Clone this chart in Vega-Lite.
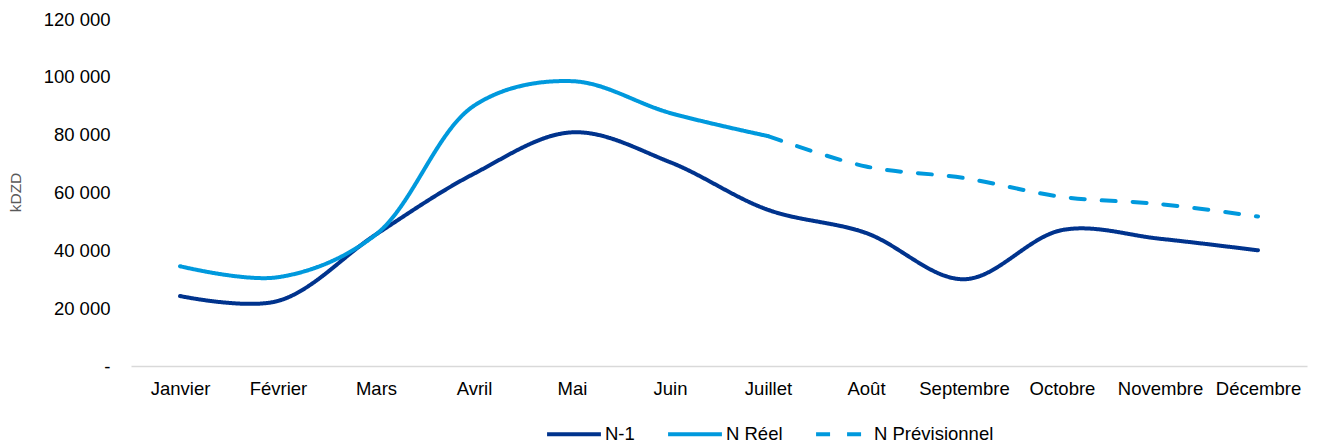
{
  "$schema": "https://vega.github.io/schema/vega-lite/v6.json",
  "autosize": "none",
  "width": 1176,
  "height": 347,
  "padding": {"left": 131, "top": 19, "right": 12, "bottom": 79},
  "background": "white",
  "data": {
    "values": [
      {"mois": "Janvier", "serie": "N-1", "valeur": 24200},
      {"mois": "Février", "serie": "N-1", "valeur": 22500},
      {"mois": "Mars", "serie": "N-1", "valeur": 45500},
      {"mois": "Avril", "serie": "N-1", "valeur": 66500},
      {"mois": "Mai", "serie": "N-1", "valeur": 80800},
      {"mois": "Juin", "serie": "N-1", "valeur": 70500},
      {"mois": "Juillet", "serie": "N-1", "valeur": 54000},
      {"mois": "Août", "serie": "N-1", "valeur": 46000},
      {"mois": "Septembre", "serie": "N-1", "valeur": 30000},
      {"mois": "Octobre", "serie": "N-1", "valeur": 47000},
      {"mois": "Novembre", "serie": "N-1", "valeur": 44000},
      {"mois": "Décembre", "serie": "N-1", "valeur": 40000},
      {"mois": "Janvier", "serie": "N Réel", "valeur": 34500},
      {"mois": "Février", "serie": "N Réel", "valeur": 30700},
      {"mois": "Mars", "serie": "N Réel", "valeur": 45500},
      {"mois": "Avril", "serie": "N Réel", "valeur": 90000},
      {"mois": "Mai", "serie": "N Réel", "valeur": 98500},
      {"mois": "Juin", "serie": "N Réel", "valeur": 87500},
      {"mois": "Juillet", "serie": "N Réel", "valeur": 79500},
      {"mois": "Juillet", "serie": "N Prévisionnel", "valeur": 79500},
      {"mois": "Août", "serie": "N Prévisionnel", "valeur": 69000},
      {"mois": "Septembre", "serie": "N Prévisionnel", "valeur": 65000},
      {"mois": "Octobre", "serie": "N Prévisionnel", "valeur": 58500},
      {"mois": "Novembre", "serie": "N Prévisionnel", "valeur": 56000},
      {"mois": "Décembre", "serie": "N Prévisionnel", "valeur": 51700}
    ]
  },
  "mark": {"type": "line", "interpolate": "catmull-rom", "strokeWidth": 4, "strokeCap": "round"},
  "encoding": {
    "x": {
      "field": "mois",
      "type": "nominal",
      "sort": ["Janvier", "Février", "Mars", "Avril", "Mai", "Juin", "Juillet", "Août", "Septembre", "Octobre", "Novembre", "Décembre"],
      "scale": {"paddingInner": 0, "paddingOuter": 0},
      "axis": {
        "title": null,
        "labelAngle": 0,
        "ticks": false,
        "grid": false,
        "domainColor": "#d9d9d9",
        "domainWidth": 1.5,
        "labelPadding": 13,
        "labelFont": "Liberation Sans",
        "labelFontSize": 18.5,
        "labelColor": "#000000",
        "labelOverlap": false
      }
    },
    "y": {
      "field": "valeur",
      "type": "quantitative",
      "scale": {"domain": [0, 120000]},
      "axis": {
        "title": "kDZD",
        "values": [0, 20000, 40000, 60000, 80000, 100000, 120000],
        "labelExpr": "datum.value == 0 ? '-' : replace(format(datum.value, ','), ',', ' ')",
        "grid": false,
        "domain": false,
        "ticks": false,
        "labelPadding": 21,
        "labelFont": "Liberation Sans",
        "labelFontSize": 18.5,
        "labelColor": "#000000",
        "titleFont": "Liberation Sans",
        "titleFontSize": 15.5,
        "titleFontWeight": "normal",
        "titleColor": "#595959",
        "titleX": -108,
        "titleY": 173,
        "titleAngle": -90,
        "titleAlign": "center",
        "titleBaseline": "bottom"
      }
    },
    "color": {
      "field": "serie",
      "type": "nominal",
      "title": null,
      "scale": {
        "domain": ["N-1", "N Réel", "N Prévisionnel"],
        "range": ["#00338D", "#0099DD", "#0099DD"]
      },
      "legend": {
        "orient": "none",
        "legendX": 414,
        "legendY": 386,
        "direction": "horizontal",
        "symbolType": "stroke",
        "symbolSize": 2900,
        "symbolStrokeWidth": 4,
        "labelFont": "Liberation Sans",
        "labelFontSize": 18.5,
        "labelColor": "#000000",
        "labelOffset": 2,
        "columnPadding": 25
      }
    },
    "strokeDash": {
      "field": "serie",
      "type": "nominal",
      "title": null,
      "scale": {
        "domain": ["N-1", "N Réel", "N Prévisionnel"],
        "range": [[1, 0], [1, 0], [14, 17]]
      }
    }
  },
  "config": {
    "view": {"stroke": null},
    "font": "Liberation Sans"
  }
}
